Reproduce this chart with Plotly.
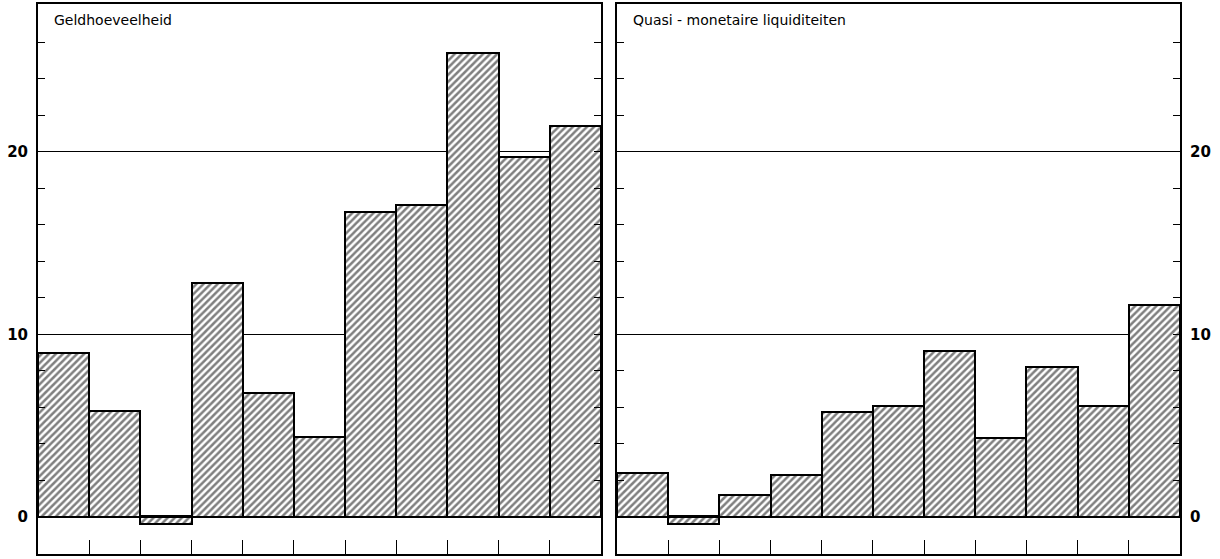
import plotly.graph_objects as go

categories = list(range(11))
geld_values = [9.0, 5.8, -0.4, 12.8, 6.8, 4.4, 16.7, 17.1, 25.4, 19.7, 21.4]
quasi_values = [2.4, -0.4, 1.2, 2.3, 5.75, 6.1, 9.1, 4.3, 8.2, 6.1, 11.6]
titles = ["Geldhoeveelheid", "Quasi - monetaire liquiditeiten"]
major_ticks = [0, 10, 20]
major_labels = ["0", "10", "20"]
boundary_ticks = [i + 0.5 for i in range(10)]

W, H = 1220, 559
yrange = [-2.03, 28.1]

fig = go.Figure()

bar_style = dict(
    width=1.0,
    marker=dict(
        color="white",
        line=dict(color="black", width=2),
        pattern=dict(shape="/", size=5, solidity=0.5, fgcolor="black", bgcolor="white"),
    ),
    showlegend=False,
    hoverinfo="skip",
)

fig.add_trace(go.Bar(x=categories, y=geld_values, xaxis="x", yaxis="y", **bar_style))
fig.add_trace(go.Bar(x=categories, y=quasi_values, xaxis="x2", yaxis="y2", **bar_style))

label_font = dict(family="DejaVu Sans", size=15, color="black", weight="bold")

xcommon = dict(
    range=[-0.5, 10.5],
    showline=True, linecolor="black", linewidth=2, mirror=True,
    ticks="inside", tickvals=boundary_ticks, ticklen=14, tickwidth=1, tickcolor="black",
    showticklabels=False, showgrid=False, zeroline=False, fixedrange=True,
)
ycommon = dict(
    range=yrange,
    showline=True, linecolor="black", linewidth=2, mirror="ticks",
    ticks="inside", tickvals=major_ticks, ticktext=major_labels, ticklen=7, tickwidth=1,
    tickcolor="black", tickfont=label_font,
    showgrid=True, gridcolor="black", gridwidth=1,
    zeroline=True, zerolinecolor="black", zerolinewidth=3,
    minor=dict(tickvals=[v for v in range(2, 28, 2) if v not in major_ticks],
               ticks="inside", ticklen=7, tickwidth=1, tickcolor="black", showgrid=False),
    fixedrange=True,
)

ytop = 1 - 4 / H
ybot = 1 - 554 / H

fig.update_layout(
    width=W, height=H,
    margin=dict(l=0, r=0, t=0, b=0, autoexpand=False),
    paper_bgcolor="white", plot_bgcolor="white",
    bargap=0,
    xaxis=dict(domain=[38 / W, 601 / W], anchor="y", **xcommon),
    xaxis2=dict(domain=[617 / W, 1180 / W], anchor="y2", **xcommon),
    yaxis=dict(domain=[ybot, ytop], anchor="x", side="left", ticklabelstandoff=5, **ycommon),
    yaxis2=dict(domain=[ybot, ytop], anchor="x2", side="right", ticklabelstandoff=5, **ycommon),
)

for i, t in enumerate(titles):
    sfx = "" if i == 0 else "2"
    fig.add_annotation(
        text=t, xref=f"x{sfx} domain", yref=f"y{sfx} domain",
        x=0.024, y=0.99, xanchor="left", yanchor="top", showarrow=False,
        font=dict(family="DejaVu Sans", size=14, color="black"),
    )

fig.write_html(
    "out.html",
    config={"displayModeBar": False},
    post_script="document.body.style.margin='0';document.body.style.overflow='hidden';",
)
